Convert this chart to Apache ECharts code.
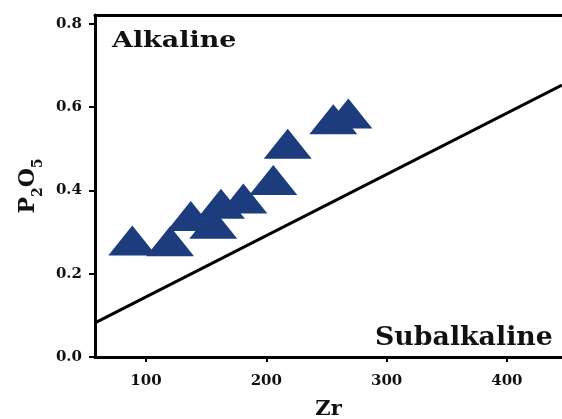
<!DOCTYPE html>
<html>
<head>
<meta charset="utf-8">
<script src="https://cdn.jsdelivr.net/npm/echarts@6/dist/echarts.min.js"></script>
<style>
  html, body { margin: 0; padding: 0; background: #fff; }
  #chart { width: 562px; height: 419px; }
</style>
</head>
<body>
<div id="chart"></div>
<script>
// Zr (ppm) vs P2O5 (wt%) samples
const zr   = [88.6, 120.0, 137.2, 155.9, 162.3, 180.9, 205.8, 217.8, 255.7, 268.2];
const p2o5 = [0.280, 0.278, 0.339, 0.320, 0.368, 0.381, 0.425, 0.512, 0.571, 0.585];

// Alkaline / subalkaline dividing line
const divideZr = [57.6, 445.8];
const divideP  = [0.082, 0.653];

const xTicks = [100, 200, 300, 400];
const yTicks = [0.0, 0.2, 0.4, 0.6, 0.8];

const FONT = 'DejaVu Serif';
const samples = zr.map((v, i) => [v, p2o5[i]]);
const divide = divideZr.map((v, i) => [v, divideP[i]]);

const chart = echarts.init(document.getElementById('chart'), null, { renderer: 'canvas' });
chart.setOption({
  animation: false,
  backgroundColor: '#ffffff',
  grid: { left: 95, right: 0, top: 15, bottom: 62, outerBoundsMode: 'none', containLabel: false },
  xAxis: [{
    type: 'value',
    min: 57.6, max: 445.8,
    splitLine: { show: false },
    axisLine: { show: true, onZero: false, lineStyle: { color: '#000', width: 3 } },
    axisTick: { show: true, customValues: xTicks, length: 5, lineStyle: { color: '#000', width: 2 } },
    axisLabel: { customValues: xTicks, margin: 17, color: '#111', fontFamily: FONT, fontWeight: 'bold', fontSize: 15 },
    name: 'Zr', nameLocation: 'middle', nameGap: 42,
    nameTextStyle: { color: '#111', fontFamily: FONT, fontWeight: 'bold', fontSize: 21 }
  }, {
    type: 'value', position: 'top',
    min: 57.6, max: 445.8,
    splitLine: { show: false },
    axisLine: { show: true, onZero: false, lineStyle: { color: '#000', width: 3 } },
    axisTick: { show: false }, axisLabel: { show: false }
  }],
  yAxis: {
    type: 'value',
    min: 0, max: 0.8216,
    splitLine: { show: false },
    axisLine: { show: true, onZero: false, lineStyle: { color: '#000', width: 3 } },
    axisTick: { show: true, customValues: yTicks, length: 6, lineStyle: { color: '#000', width: 2 } },
    axisLabel: {
      customValues: yTicks, margin: 13, color: '#111', fontFamily: FONT, fontWeight: 'bold', fontSize: 15,
      formatter: v => v.toFixed(1)
    },
    name: '{b|P}{s|2}{b|O}{s|5}', nameLocation: 'middle', nameGap: 52, nameRotate: 90,
    nameTextStyle: {
      rich: {
        b: { fontFamily: FONT, fontWeight: 'bold', fontSize: 22, color: '#111', verticalAlign: 'top', lineHeight: 26 },
        s: { fontFamily: FONT, fontWeight: 'bold', fontSize: 14, color: '#111', verticalAlign: 'top', lineHeight: 16, padding: [14, 0, 0, 0] }
      }
    }
  },
  graphic: [
    { type: 'text', left: 112, top: 30, scaleX: 1.17,
      style: { text: 'Alkaline', fill: '#111', font: 'bold 23px "DejaVu Serif"' } },
    { type: 'text', left: 375, top: 325, scaleX: 1.03,
      style: { text: 'Subalkaline', fill: '#111', font: 'bold 26px "DejaVu Serif"' } }
  ],
  series: [{
    type: 'line',
    data: divide,
    symbol: 'none',
    lineStyle: { color: '#000', width: 3 },
    z: 2
  }, {
    type: 'scatter',
    data: samples,
    symbol: 'triangle',
    symbolSize: [48, 30],
    itemStyle: { color: '#1c3c7d', opacity: 1 },
    z: 3
  }]
});
</script>
</body>
</html>
